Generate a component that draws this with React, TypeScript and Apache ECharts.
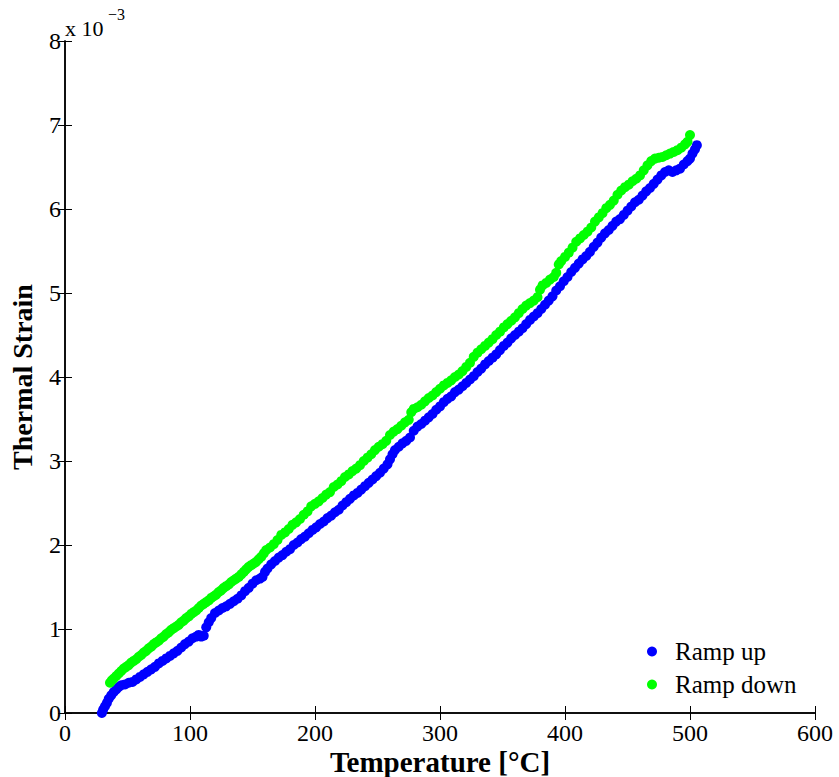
import React, { useEffect, useRef } from "react";
import * as echarts from "echarts";

// Temperature [°C] and thermal strain (in units of 10^-3)
const rampUpTemp = [29.5, 30.5, 32, 33.5, 35, 37, 39, 41, 43, 45, 48, 51, 54, 57, 60, 63, 66, 69, 72, 75, 78, 81, 84, 87, 90, 93, 96, 99, 102, 105, 107, 109, 111, 113, 115, 117, 120, 123, 126, 129, 132, 135, 138, 141, 144, 147, 150, 153, 156, 158, 160, 162, 165, 168, 171, 174, 177, 180, 183, 186, 189, 192, 195, 198, 201, 204, 207, 210, 213, 216, 219, 222, 225, 228, 231, 234, 237, 240, 243, 246, 249, 252, 255, 258, 260, 262, 264, 267, 270, 273, 276, 279, 282, 285, 288, 291, 294, 297, 300, 303, 306, 309, 312, 315, 318, 321, 324, 327, 330, 333, 336, 339, 342, 345, 348, 351, 354, 357, 360, 363, 366, 369, 372, 375, 378, 381, 384, 387, 390, 393, 396, 399, 402, 405, 408, 411, 414, 417, 420, 423, 426, 429, 432, 435, 438, 441, 444, 447, 450, 453, 456, 459, 462, 465, 468, 471, 474, 477, 480, 483, 486, 489, 492, 495, 498, 500, 502, 504, 505.5];
const rampUpStrain = [0.0, 0.04, 0.08, 0.12, 0.17, 0.21, 0.25, 0.28, 0.31, 0.33, 0.34, 0.36, 0.37, 0.4, 0.43, 0.46, 0.49, 0.52, 0.55, 0.59, 0.62, 0.65, 0.68, 0.71, 0.74, 0.78, 0.82, 0.85, 0.89, 0.91, 0.93, 0.91, 0.92, 1.02, 1.08, 1.13, 1.19, 1.22, 1.25, 1.27, 1.3, 1.33, 1.36, 1.4, 1.45, 1.49, 1.54, 1.58, 1.6, 1.62, 1.68, 1.72, 1.77, 1.81, 1.85, 1.88, 1.92, 1.95, 2.0, 2.03, 2.07, 2.1, 2.14, 2.18, 2.21, 2.25, 2.28, 2.32, 2.35, 2.39, 2.42, 2.47, 2.51, 2.55, 2.59, 2.62, 2.66, 2.7, 2.74, 2.78, 2.82, 2.86, 2.91, 2.96, 3.02, 3.08, 3.13, 3.17, 3.21, 3.24, 3.28, 3.36, 3.41, 3.44, 3.48, 3.52, 3.56, 3.61, 3.65, 3.7, 3.74, 3.77, 3.82, 3.85, 3.89, 3.93, 3.97, 4.01, 4.06, 4.1, 4.15, 4.19, 4.23, 4.27, 4.32, 4.37, 4.41, 4.46, 4.5, 4.54, 4.58, 4.63, 4.68, 4.72, 4.76, 4.81, 4.86, 4.91, 4.96, 5.03, 5.08, 5.14, 5.19, 5.25, 5.3, 5.35, 5.4, 5.44, 5.49, 5.55, 5.6, 5.66, 5.71, 5.75, 5.8, 5.85, 5.88, 5.93, 5.98, 6.03, 6.08, 6.11, 6.16, 6.21, 6.25, 6.3, 6.35, 6.4, 6.44, 6.46, 6.44, 6.46, 6.48, 6.53, 6.57, 6.6, 6.66, 6.71, 6.76];

const rampDownTemp = [36, 37.5, 39, 41, 43, 45, 47, 49, 51, 53, 55, 57, 59, 61, 63, 65, 67, 69, 71, 73, 75, 77, 79, 81, 83, 85, 87, 89, 91, 93, 95, 97, 99, 101, 103, 105, 107, 109, 111, 113, 115, 117, 119, 121, 123, 125, 127, 129, 131, 133, 135, 137, 139, 141, 143, 145, 147, 149, 151, 153, 155, 157, 159, 161, 164, 167, 170, 173, 176, 179, 182, 185, 188, 191, 194, 197, 200, 203, 206, 209, 212, 215, 218, 221, 224, 227, 230, 233, 236, 239, 242, 245, 248, 251, 254, 257, 260, 263, 266, 269, 272, 275, 277, 279, 282, 285, 288, 291, 294, 297, 300, 303, 306, 309, 312, 315, 318, 321, 324, 327, 330, 333, 336, 339, 342, 345, 348, 351, 354, 357, 360, 363, 366, 369, 372, 375, 378, 380, 382, 385, 388, 391, 393, 395, 397, 400, 403, 406, 409, 412, 415, 418, 421, 424, 427, 430, 433, 436, 439, 442, 445, 448, 451, 454, 457, 460, 463, 466, 469, 472, 475, 478, 481, 484, 487, 490, 493, 496, 498, 500];
const rampDownStrain = [0.36, 0.39, 0.41, 0.44, 0.47, 0.5, 0.53, 0.55, 0.57, 0.6, 0.62, 0.64, 0.67, 0.69, 0.72, 0.74, 0.77, 0.79, 0.82, 0.84, 0.86, 0.89, 0.91, 0.94, 0.96, 0.99, 1.01, 1.03, 1.05, 1.08, 1.1, 1.13, 1.15, 1.18, 1.2, 1.22, 1.25, 1.28, 1.3, 1.32, 1.34, 1.37, 1.39, 1.41, 1.44, 1.46, 1.49, 1.51, 1.53, 1.56, 1.58, 1.6, 1.62, 1.65, 1.68, 1.71, 1.74, 1.76, 1.78, 1.8, 1.83, 1.86, 1.9, 1.94, 1.97, 2.01, 2.06, 2.12, 2.15, 2.19, 2.24, 2.27, 2.31, 2.36, 2.4, 2.46, 2.49, 2.52, 2.56, 2.6, 2.63, 2.69, 2.72, 2.76, 2.81, 2.84, 2.88, 2.91, 2.95, 3.0, 3.04, 3.08, 3.13, 3.17, 3.2, 3.24, 3.31, 3.35, 3.38, 3.42, 3.46, 3.49, 3.58, 3.62, 3.64, 3.67, 3.71, 3.75, 3.78, 3.82, 3.86, 3.9, 3.93, 3.96, 4.0, 4.03, 4.07, 4.12, 4.17, 4.24, 4.29, 4.33, 4.37, 4.41, 4.45, 4.5, 4.54, 4.59, 4.63, 4.67, 4.71, 4.76, 4.81, 4.85, 4.88, 4.91, 4.95, 5.04, 5.09, 5.12, 5.16, 5.19, 5.24, 5.34, 5.38, 5.43, 5.48, 5.54, 5.61, 5.65, 5.69, 5.73, 5.78, 5.85, 5.9, 5.95, 6.01, 6.05, 6.1, 6.17, 6.22, 6.26, 6.29, 6.33, 6.36, 6.4, 6.46, 6.52, 6.57, 6.6, 6.61, 6.62, 6.64, 6.66, 6.68, 6.7, 6.73, 6.77, 6.8, 6.88];

const seriesNames = ["Ramp up", "Ramp down"];
const xTicks = { min: 0, max: 600, interval: 100 };
const yTicks = { min: 0, max: 8, interval: 1 };

const FONT = "Liberation Serif";

export default function App() {
  const ref = useRef<HTMLDivElement>(null);
  useEffect(() => {
    if (!ref.current) return;
    const chart = echarts.init(ref.current, undefined, { renderer: "svg" });
    const zip = (a: number[], b: number[]) => a.map((v, i) => [v, b[i]]);
    const axisLine = { show: true, lineStyle: { color: "#000", width: 1.5 } };
    const tick = { show: true, inside: true, length: 7, lineStyle: { color: "#000", width: 1 } };
    chart.setOption({
      animation: false,
      backgroundColor: "#fff",
      grid: { left: 65, right: 24, top: 41, bottom: 64, containLabel: false, outerBoundsMode: "none" },
      xAxis: [
        {
          type: "value",
          ...xTicks,
          name: "Temperature [°C]",
          nameLocation: "middle",
          nameGap: 34,
          nameMoveOverlap: false,
          nameTextStyle: { fontFamily: FONT, fontSize: 29, fontWeight: "bold", color: "#000" },
          axisLine,
          axisTick: tick,
          splitLine: { show: false },
          axisLabel: { fontFamily: FONT, fontSize: 24, color: "#000", margin: 8 },
        },
        {
          type: "value",
          ...xTicks,
          position: "top",
          axisLine,
          axisTick: tick,
          splitLine: { show: false },
          axisLabel: { show: false },
        },
      ],
      yAxis: [
        {
          type: "value",
          ...yTicks,
          name: "Thermal Strain",
          nameLocation: "middle",
          nameGap: 29,
          nameMoveOverlap: false,
          nameRotate: 90,
          nameTextStyle: { fontFamily: FONT, fontSize: 28, fontWeight: "bold", color: "#000" },
          axisLine,
          axisTick: tick,
          splitLine: { show: false },
          axisLabel: { fontFamily: FONT, fontSize: 24, color: "#000", margin: 4 },
        },
        {
          type: "value",
          ...yTicks,
          position: "right",
          axisLine,
          axisTick: tick,
          splitLine: { show: false },
          axisLabel: { show: false },
        },
      ],
      legend: {
        data: seriesNames,
        orient: "vertical",
        left: 642,
        top: 634,
        icon: "circle",
        itemWidth: 10,
        itemHeight: 10,
        itemGap: 8,
        textStyle: { fontFamily: FONT, fontSize: 25, color: "#000", padding: [0, 0, 0, 13] },
      },
      graphic: [
        {
          type: "text",
          x: 65,
          y: 28,
          style: { text: "x 10", fontFamily: FONT, fontSize: 22, fill: "#000", verticalAlign: "middle" },
        },
        {
          type: "text",
          x: 108,
          y: 14,
          style: { text: "−3", fontFamily: FONT, fontSize: 16, fill: "#000", verticalAlign: "middle" },
        },
      ],
      series: [
        {
          name: seriesNames[0],
          type: "scatter",
          data: zip(rampUpTemp, rampUpStrain),
          symbolSize: 10,
          itemStyle: { color: "#0000ff", opacity: 1 },
        },
        {
          name: seriesNames[1],
          type: "scatter",
          data: zip(rampDownTemp, rampDownStrain),
          symbolSize: 10,
          itemStyle: { color: "#00ff00", opacity: 1 },
        },
      ],
    });
    return () => chart.dispose();
  }, []);
  return (
    <div
      ref={ref}
      style={{ position: "fixed", left: 0, top: 0, width: 839, height: 777, background: "#fff" }}
    />
  );
}
